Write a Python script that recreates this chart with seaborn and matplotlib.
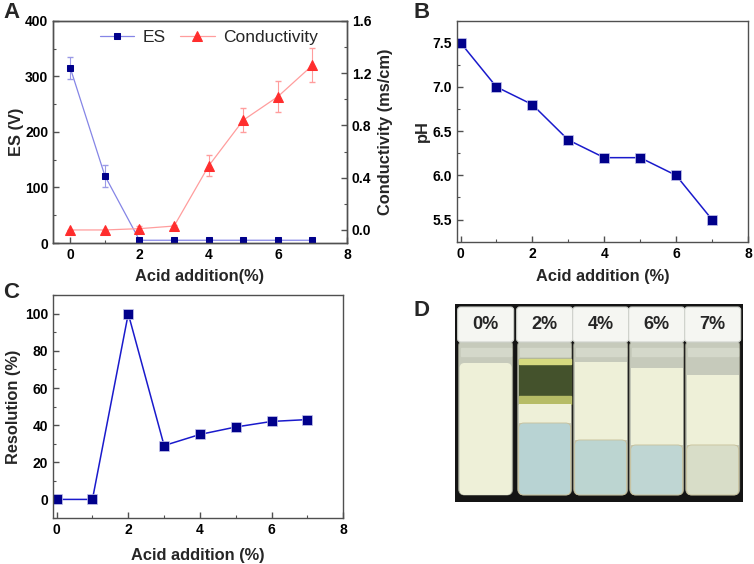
import numpy as np
import pandas as pd
import matplotlib
matplotlib.use('Agg')
import matplotlib.pyplot as plt
import seaborn as sns
from matplotlib.patches import Rectangle, FancyBboxPatch
from matplotlib.ticker import MultipleLocator, FormatStrFormatter

# data
acid = [0, 1, 2, 3, 4, 5, 6, 7]
es_volt = [315, 121, 5, 5, 5, 5, 5, 5]
es_err = [20, 20, 0, 0, 0, 0, 0, 0]
cond = [0.0, 0.0, 0.01, 0.03, 0.49, 0.84, 1.02, 1.26]
cond_err = [0.0, 0.0, 0.02, 0.01, 0.08, 0.09, 0.12, 0.13]
ph = [7.5, 7.0, 6.8, 6.4, 6.2, 6.2, 6.0, 5.5]
resolution = [0, 0, 100, 29, 35, 39, 42, 43]

# photo panel (D): vial labels and layer boundaries (pixel rows in the photo)
vial_labels = ['0%', '2%', '4%', '6%', '7%']
vial_centers = [31, 90, 146, 202, 258]
cream_top = [59, 100, 58, 64, 71]
lower_top = [191, 119, 136, 141, 141]
lower_color = ['#eef0d8', '#b8d3d3', '#bcd5d1', '#bfd6d3', '#d8ddc8']

sns.set_style('ticks')
plt.rcParams['font.family'] = ['Liberation Sans', 'DejaVu Sans']
plt.rcParams['font.weight'] = 'bold'
plt.rcParams['axes.labelweight'] = 'bold'

navy = '#00008b'
lab_size = 11.8


def style(ax, right=False):
    for s in ax.spines.values():
        s.set_color('#505050')
        s.set_linewidth(1.0)
        s.set_visible(True)
    ax.tick_params(which='both', direction='in', labelsize=10, colors='#505050',
                   labelcolor='black', top=False, right=right, left=not right)
    ax.tick_params(which='major', length=4, width=1)
    ax.tick_params(which='minor', length=2, width=0.8)


fig = plt.figure(figsize=(7.54, 5.64), dpi=100)

# ---- A
ax = fig.add_axes([0.0703, 0.5691, 0.390, 0.394])
sns.lineplot(x=acid, y=es_volt, ax=ax, color='#8585e6', lw=0.9, marker='s', markersize=5,
             markerfacecolor=navy, markeredgecolor=navy, label='ES', zorder=3)
ax.errorbar(acid, es_volt, yerr=es_err, fmt='none', ecolor='#9a9ae6', capsize=2.5, elinewidth=0.8)
ax.set_xlim(-0.5, 8)
ax.set_ylim(0, 400)
ax.xaxis.set_major_locator(MultipleLocator(2))
ax.xaxis.set_minor_locator(MultipleLocator(1))
ax.yaxis.set_major_locator(MultipleLocator(100))
ax.yaxis.set_minor_locator(MultipleLocator(50))
ax.set_xlabel('Acid addition(%)', fontsize=lab_size, labelpad=5)
ax.set_ylabel('ES (V)', fontsize=lab_size, labelpad=1)
style(ax)

ax2 = ax.twinx()
sns.lineplot(x=acid, y=cond, ax=ax2, color='#ff9d9d', lw=0.9, marker='^', markersize=6.5,
             markerfacecolor='#ff2d2d', markeredgecolor='#ff2d2d', label='Conductivity', zorder=3)
ax2.errorbar(acid, cond, yerr=cond_err, fmt='none', ecolor='#ff9d9d', capsize=2.5, elinewidth=0.8)
ax2.set_ylim(-0.1, 1.6)
ax2.yaxis.set_major_locator(MultipleLocator(0.4))
ax2.yaxis.set_minor_locator(MultipleLocator(0.2))
ax2.yaxis.set_major_formatter(FormatStrFormatter('%.1f'))
ax2.set_ylabel('Conductivity (ms/cm)', fontsize=lab_size, labelpad=5)
style(ax2, right=True)

h1, l1 = ax.get_legend_handles_labels()
h2, l2 = ax2.get_legend_handles_labels()
ax.get_legend().remove()
ax2.legend(h1 + h2, l1 + l2, loc='upper center', ncol=2, frameon=False,
           prop={'weight': 'normal', 'size': 12.5}, handlelength=2.0, columnspacing=0.8,
           handletextpad=0.5, bbox_to_anchor=(0.53, 1.03))

# ---- B
axb = fig.add_axes([0.606, 0.5715, 0.386, 0.392])
sns.lineplot(x=acid, y=ph, ax=axb, color='#1a1acc', lw=1.1, marker='s', markersize=6.5,
             markerfacecolor=navy, markeredgecolor='#c8c8ee', markeredgewidth=0.5)
axb.set_xlim(-0.1, 8)
axb.set_ylim(5.25, 7.75)
axb.xaxis.set_major_locator(MultipleLocator(2))
axb.xaxis.set_minor_locator(MultipleLocator(1))
axb.yaxis.set_major_locator(MultipleLocator(0.5))
axb.yaxis.set_minor_locator(MultipleLocator(0.25))
axb.yaxis.set_major_formatter(FormatStrFormatter('%.1f'))
axb.set_xlabel('Acid addition (%)', fontsize=lab_size, labelpad=6)
axb.set_ylabel('pH', fontsize=lab_size, labelpad=2)
style(axb)

# ---- C
axc = fig.add_axes([0.0703, 0.0816, 0.385, 0.395])
sns.lineplot(x=acid, y=resolution, ax=axc, color='#1a1acc', lw=1.1, marker='s', markersize=6.5,
             markerfacecolor=navy, markeredgecolor='#c8c8ee', markeredgewidth=0.5)
axc.set_xlim(-0.1, 8)
axc.set_ylim(-10, 110)
axc.xaxis.set_major_locator(MultipleLocator(2))
axc.xaxis.set_minor_locator(MultipleLocator(1))
axc.yaxis.set_major_locator(MultipleLocator(20))
axc.yaxis.set_minor_locator(MultipleLocator(10))
axc.set_xlabel('Acid addition (%)', fontsize=lab_size, labelpad=8)
axc.set_ylabel('Resolution (%)', fontsize=lab_size, labelpad=3)
style(axc)

# ---- D (drawn sketch of the vial photo)
axd = fig.add_axes([0.603, 0.110, 0.382, 0.351])
axd.set_xlim(0, 288)
axd.set_ylim(198, 0)
axd.axis('off')
axd.add_patch(Rectangle((0, 0), 288, 198, color='#141414', zorder=0))
for i, lab in enumerate(vial_labels):
    cx = vial_centers[i]
    w = 56
    x0 = cx - w / 2
    bx = x0 + 1
    bw = w - 2
    # glass
    axd.add_patch(FancyBboxPatch((bx, 36), bw, 155, boxstyle='round,pad=0,rounding_size=6',
                                 fc='#c6cabb', ec='#9a9c8c', lw=0.6, zorder=1))
    axd.add_patch(Rectangle((bx + 2, 44), bw - 4, 8, color='#d4d8ca', zorder=1))
    if i == 1:
        axd.add_patch(Rectangle((bx + 1, 55), bw - 2, cream_top[i] - 55, color='#44522c', zorder=1))
        axd.add_patch(Rectangle((bx + 1, 55), bw - 2, 5, color='#d6da80', zorder=1))
        axd.add_patch(Rectangle((bx + 1, 92), bw - 2, 8, color='#b6bc66', zorder=1))
    axd.add_patch(FancyBboxPatch((bx + 1, cream_top[i]), bw - 2, lower_top[i] - cream_top[i],
                                 boxstyle='round,pad=0,rounding_size=5' if i == 0 else 'square,pad=0',
                                 fc='#eef0d8', ec='none', zorder=1))
    if lower_top[i] < 191:
        axd.add_patch(FancyBboxPatch((bx + 1, lower_top[i]), bw - 2, 191 - lower_top[i],
                                     boxstyle='round,pad=0,rounding_size=5', fc=lower_color[i],
                                     ec='#c9c19a', lw=0.6, zorder=1))
    # cap
    axd.add_patch(FancyBboxPatch((x0, 3), w, 35, boxstyle='round,pad=0,rounding_size=3',
                                 fc='#f5f6f2', ec='#cfd2cc', lw=0.8, zorder=2))
    axd.text(cx, 21, lab, ha='center', va='center', fontsize=13, weight='bold', zorder=3)

for lab, x, y in [('A', 0.004, 0.996), ('B', 0.548, 0.996), ('C', 0.004, 0.500), ('D', 0.548, 0.468)]:
    fig.text(x, y, lab, fontsize=16, weight='bold', va='top', ha='left')

fig.savefig('out.png', dpi=100)
